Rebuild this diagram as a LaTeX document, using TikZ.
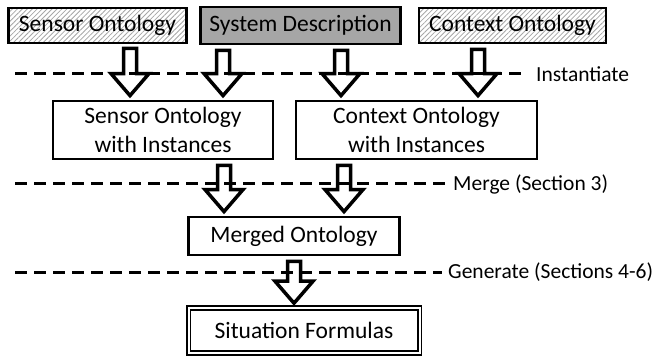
\documentclass[tikz,border=0pt]{standalone}
\usepackage{fontspec}
\setmainfont{Carlito}
\usetikzlibrary{calc,patterns.meta}

% hollow block arrow: #1 = x, #2 = from node, #3 = to node
\newcommand{\fatarrow}[3]{%
  \draw[fat arrow] let \p1=(#2.south), \p2=(#3.north) in
    (#1pt-6.5pt,\y1-5pt) -- (#1pt+6.5pt,\y1-5pt) -- (#1pt+6.5pt,\y2+26pt)
    -- (#1pt+19pt,\y2+26pt) -- (#1pt,\y2+4pt) -- (#1pt-19pt,\y2+26pt)
    -- (#1pt-6.5pt,\y2+26pt) -- cycle;}

\begin{document}
\begin{tikzpicture}[x=1pt,y=-1pt,
  box/.style={draw,line width=2.8pt,align=center,inner sep=0pt,
    font=\fontsize{23.5}{29}\selectfont},
  hatched/.style={box,pattern={Lines[angle=45,distance=3.5pt,line width=0.8pt]},
    pattern color=gray!70},
  stage/.style={dash pattern=on 12pt off 7pt,line width=3pt},
  stagelabel/.style={anchor=west,inner sep=0pt,font=\fontsize{21.5}{25}\selectfont},
  fat arrow/.style={draw,line width=3.5pt,fill=white}]
  \useasboundingbox (0,0) rectangle (656,358);

  % inputs
  \node[hatched,minimum width=178pt,minimum height=35pt] (sensor) at (97.5,25.5) {Sensor Ontology};
  \node[box,fill=black!35,minimum width=200pt,minimum height=37pt] (sysdesc) at (300.5,25.5) {System Description};
  \node[hatched,minimum width=187pt,minimum height=35pt] (context) at (512.5,25.5) {Context Ontology};

  % instantiated ontologies
  \node[box,minimum width=220pt,minimum height=58pt] (sensorI) at (163,130) {Sensor Ontology\\with Instances};
  \node[box,minimum width=241pt,minimum height=58pt] (contextI) at (416.5,130) {Context Ontology\\with Instances};

  \node[box,minimum width=211pt,minimum height=38pt] (merged) at (294,236) {Merged Ontology};
  \node[box,double,double distance=2pt,line width=1.6pt,minimum width=231pt,minimum height=45pt]
    (formulas) at (304,330.5) {Situation Formulas};

  % block arrows
  \fatarrow{130}{sensor}{sensorI}
  \fatarrow{223}{sysdesc}{sensorI}
  \fatarrow{341}{sysdesc}{contextI}
  \fatarrow{478}{context}{contextI}
  \fatarrow{224}{sensorI}{merged}
  \fatarrow{344}{contextI}{merged}
  \fatarrow{294}{merged}{formulas}

  % stages
  \node[stagelabel] (inst) at (536,74) {Instantiate};
  \node[stagelabel] (merge) at (453,184) {Merge (Section 3)};
  \node[stagelabel] (gen) at (448,272) {Generate (Sections 4-6)};
  \draw[stage] (15,74) -- ([xshift=-15pt]inst.west);
  \draw[stage] (15,184) -- ([xshift=-6pt]merge.west);
  \draw[stage] (15,272) -- ([xshift=-6pt]gen.west);
\end{tikzpicture}
\end{document}
